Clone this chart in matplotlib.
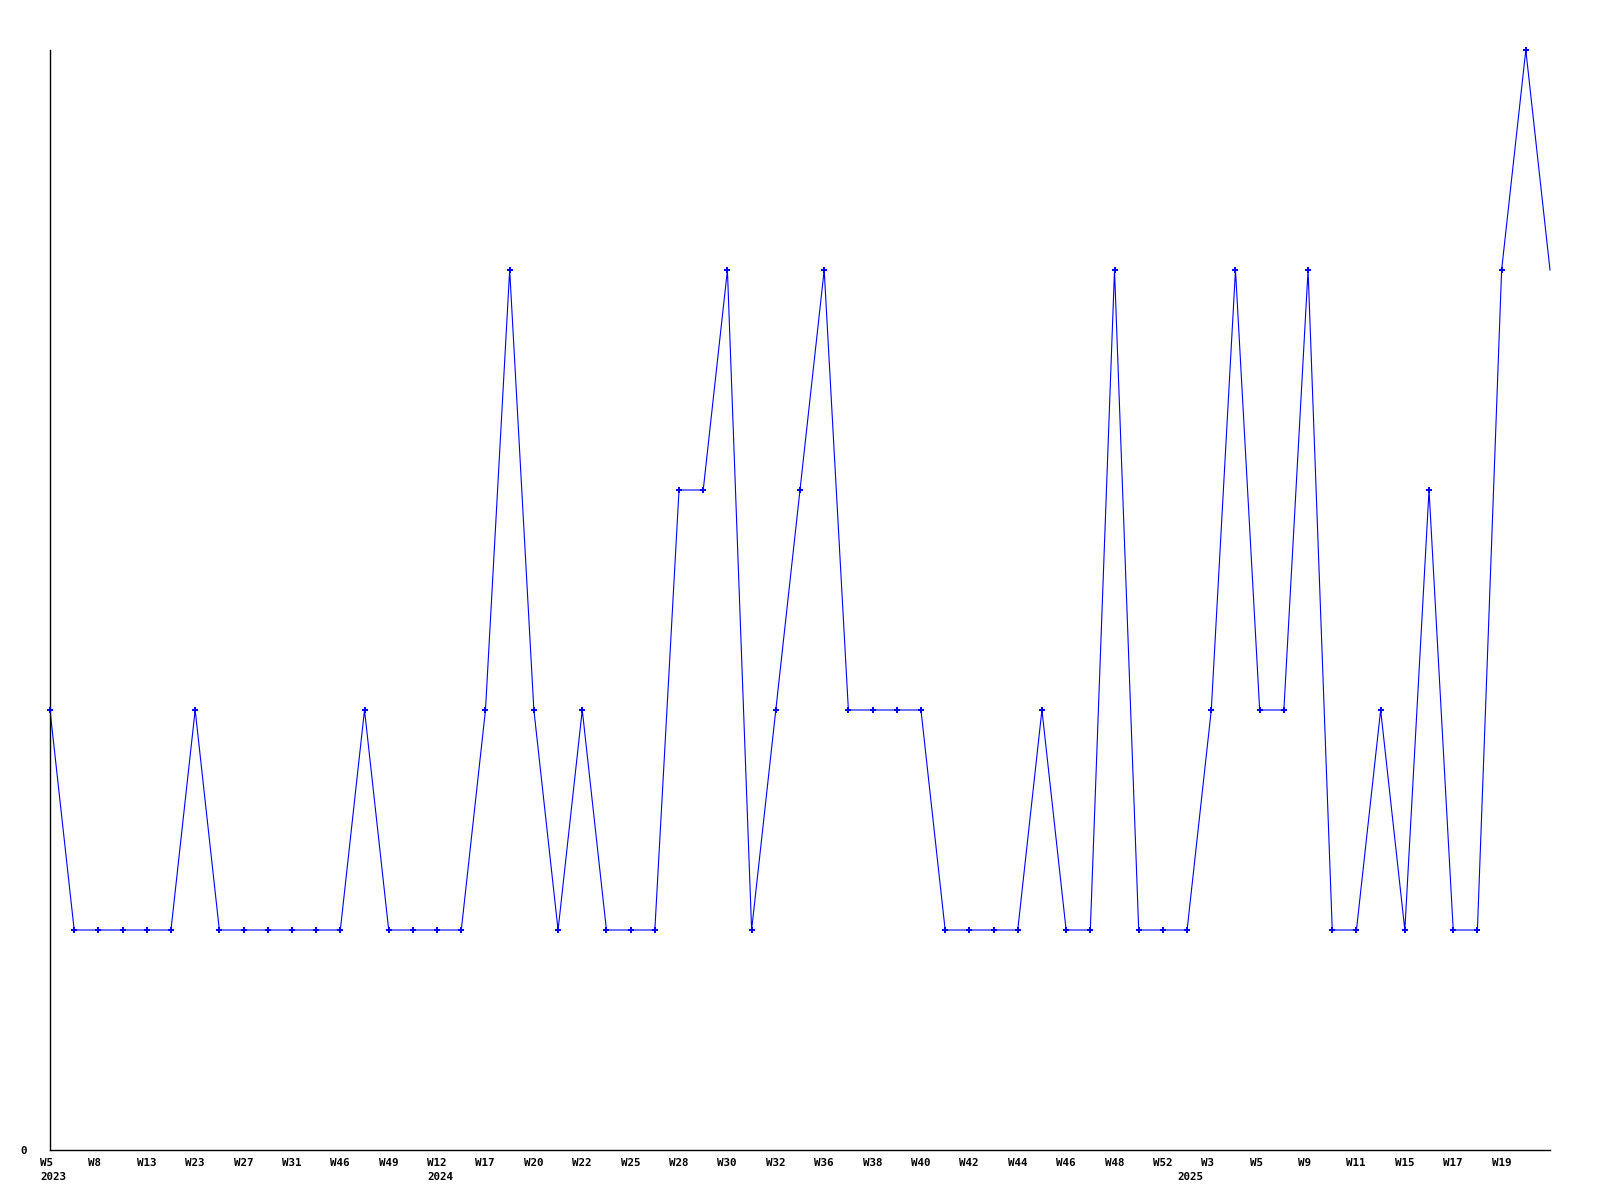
import numpy as np
import matplotlib
matplotlib.use("Agg")
import matplotlib.pyplot as plt
import matplotlib.transforms as mtransforms

# weekly counts, one per point (63 weeks)
values = [2, 1, 1, 1, 1, 1, 2, 1, 1, 1, 1, 1, 1, 2, 1, 1, 1, 1, 2, 4, 2,
          1, 2, 1, 1, 1, 3, 3, 4, 1, 2, 3, 4, 2, 2, 2, 2, 1, 1, 1, 1, 2,
          1, 1, 4, 1, 1, 1, 2, 4, 2, 2, 4, 1, 1, 2, 1, 3, 1, 1, 4, 5, 4]

# labels shown on every second point
week_labels = ['W5', 'W8', 'W13', 'W23', 'W27', 'W31', 'W46', 'W49', 'W12', 'W17',
               'W20', 'W22', 'W25', 'W28', 'W30', 'W32', 'W36', 'W38', 'W40', 'W42',
               'W44', 'W46', 'W48', 'W52', 'W3', 'W5', 'W9', 'W11', 'W15', 'W17', 'W19']

# first point of each year
year_idx = [0, 16, 47]
year_labels = ['2023', '2024', '2025']

font = dict(family='DejaVu Sans Mono', weight='bold', size=7.8)

fig = plt.figure(figsize=(16, 12), dpi=100)
ax = fig.add_axes([50 / 1600, 50 / 1200, 1500 / 1600, 1100 / 1200])

x = np.arange(len(values))
ax.plot(x, values, color='#0000ff', lw=0.8, clip_on=False)
ax.plot(x[:-1], values[:-1], ls='none', marker='P', ms=4, color='#0000ff', mew=0,
        clip_on=False, zorder=3)

ax.set_xlim(0, len(values) - 1)
ax.set_ylim(0, 5)

for s in ['top', 'right']:
    ax.spines[s].set_visible(False)
for s in ['left', 'bottom']:
    ax.spines[s].set_linewidth(1.0)
    ax.spines[s].set_color('black')

ax.set_yticks([0])
ax.set_yticklabels(['0'], **font)
ax.tick_params(axis='y', length=0, pad=24)

ax.set_xticks(x[:-1:2])
ax.set_xticklabels(week_labels, ha='left', **font)
ax.tick_params(axis='x', length=0, pad=6)
shift = mtransforms.ScaledTranslation(-10 / 100, 0, fig.dpi_scale_trans)
for lab in ax.get_xticklabels():
    lab.set_transform(lab.get_transform() + shift)
# the "0" sits close to the axis, right edge ~25px from the figure edge
yshift = mtransforms.ScaledTranslation(10 / 100, 0, fig.dpi_scale_trans)
for lab in ax.get_yticklabels():
    lab.set_transform(lab.get_transform() + yshift)

trans = mtransforms.blended_transform_factory(ax.transData, ax.transAxes)
for i, yl in zip(year_idx, year_labels):
    ax.text(i, 0, yl, transform=trans + mtransforms.ScaledTranslation(-10 / 100, -27 / 100, fig.dpi_scale_trans),
            ha='left', va='center', **font)

fig.savefig('out.png', dpi=100)
